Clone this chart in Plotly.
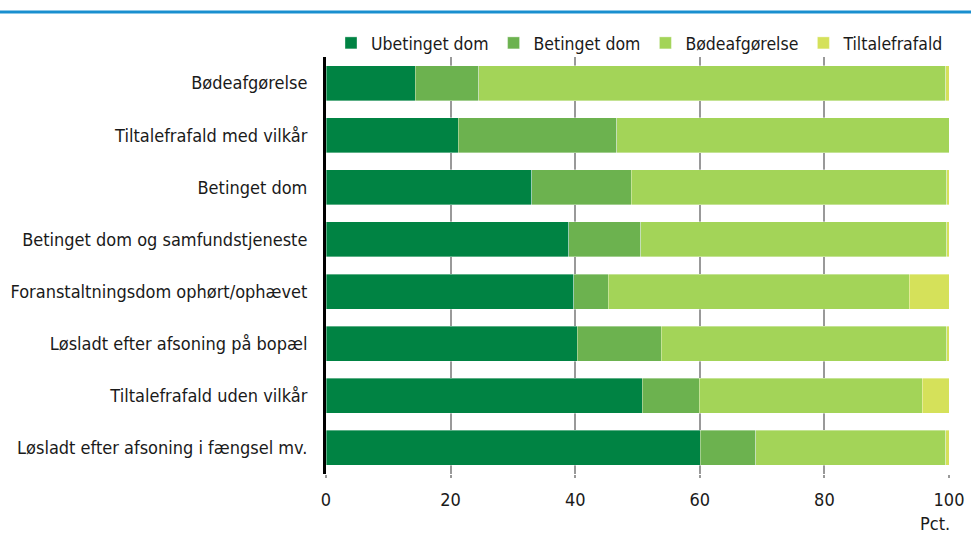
import plotly.graph_objects as go

categories = [
    "Bødeafgørelse",
    "Tiltalefrafald med vilkår",
    "Betinget dom",
    "Betinget dom og samfundstjeneste",
    "Foranstaltningsdom ophørt/ophævet",
    "Løsladt efter afsoning på bopæl",
    "Tiltalefrafald uden vilkår",
    "Løsladt efter afsoning i fængsel mv.",
]
ubetinget = [14.3, 21.2, 33.0, 39.0, 39.8, 40.3, 50.8, 60.1]
betinget = [10.2, 25.5, 16.0, 11.5, 5.5, 13.5, 9.1, 8.9]
boede = [75.0, 53.3, 50.6, 49.1, 48.3, 45.8, 35.8, 30.5]
tiltale = [0.5, 0.0, 0.4, 0.4, 6.4, 0.4, 4.3, 0.5]

series_names = ["Ubetinget dom", "Betinget dom", "Bødeafgørelse", "Tiltalefrafald"]
series_values = [ubetinget, betinget, boede, tiltale]
colors = ["#008343", "#6cb24f", "#a3d458", "#d5e15a"]
tick_vals = [0, 20, 40, 60, 80, 100]

FONT = "Liberation Sans Narrow, DejaVu Sans Condensed, sans-serif"

fig = go.Figure()
for name, vals, col in zip(series_names, series_values, colors):
    fig.add_trace(go.Bar(
        y=categories, x=vals, name=name, orientation="h",
        marker=dict(color=col, line=dict(width=0.6, color="rgba(255,255,255,0.6)")),
        hoverinfo="x+name",
    ))

W, H = 971, 536
L, R, T, B = 326, 22, 57, 62
pw, ph = W - L - R, H - T - B

fig.update_layout(
    width=W, height=H,
    barmode="stack", bargap=0.33,
    plot_bgcolor="white", paper_bgcolor="white",
    margin=dict(l=L, r=R, t=T, b=B, autoexpand=False),
    font=dict(family=FONT, size=18, color="#1a1a1a"),
    legend=dict(
        orientation="h", x=1.0, xanchor="right", y=1.0 - 4 / ph, yanchor="bottom",
        font=dict(size=17.5), traceorder="normal",
        itemwidth=30, bgcolor="rgba(0,0,0,0)",
    ),
    xaxis=dict(
        range=[0, 100], tickvals=tick_vals, showgrid=True, gridcolor="#999999", gridwidth=2,
        ticks="outside", ticklen=3, tickcolor="#999999", tickwidth=2,
        ticklabelstandoff=6,
        zeroline=False, showline=False, fixedrange=True,
        tickfont=dict(size=18),
    ),
    yaxis=dict(
        autorange="reversed", showline=True, linecolor="black", linewidth=3,
        ticks="", ticklabelstandoff=12, fixedrange=True,
        tickfont=dict(size=18),
    ),
    shapes=[dict(
        type="line", xref="paper", yref="paper",
        x0=-L / pw, x1=(W - L) / pw, y0=1 + (T - 12) / ph, y1=1 + (T - 12) / ph,
        line=dict(color="#1a8fcf", width=3),
    )],
    annotations=[dict(
        text="Pct.", xref="paper", yref="paper", x=1 + 3 / pw, xanchor="right",
        y=-(523 - (T + ph)) / ph, yanchor="middle", showarrow=False,
        font=dict(size=18),
    )],
)

fig.write_html("out.html", config={"displayModeBar": False})

with open("out.html", encoding="utf-8") as f:
    html = f.read()
html = html.replace("<head>", "<head><style>html,body{margin:0;padding:0;overflow:hidden}</style>", 1)
with open("out.html", "w", encoding="utf-8") as f:
    f.write(html)
